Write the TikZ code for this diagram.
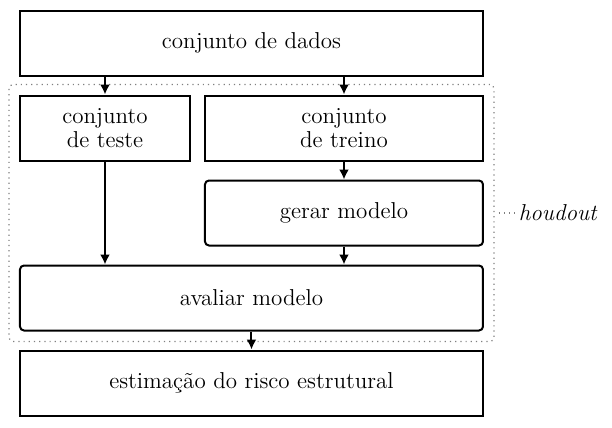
\documentclass[tikz,border=0pt]{standalone}
\usepackage{tikz}
\usetikzlibrary{arrows.meta,positioning,fit}

\begin{document}
\begin{tikzpicture}[>={Latex[length=5pt,width=5pt]},node distance=9pt,
    bloco/.style={draw,line width=1pt,minimum height=32.5pt,align=center,
      font=\fontsize{11.5}{12}\selectfont},
    blocor/.style={bloco,rounded corners=2pt},
    seta/.style={->,line width=1pt}]
    \node[bloco,minimum width=231.5pt] (dados) at (0,0) {conjunto de dados};
    \node[bloco,minimum width=85pt] (teste) [below right=9pt and 0pt of dados.south west] {conjunto\\de teste};
    \node[bloco,minimum width=139pt] (treino) [below left=9pt and 0pt of dados.south east] {conjunto\\de treino};
    \node[blocor,minimum width=139pt] (gerar) [below=of treino] {gerar modelo};
    \node[blocor,minimum width=231.5pt,anchor=north,yshift=-9pt] (avaliar) at (dados |- gerar.south) {avaliar modelo};
    \node[bloco,minimum width=231.5pt] (risco) [below=of avaliar] {estimação do risco estrutural};

    % holdout
    \node[draw=gray,dotted,line width=0.6pt,rounded corners=2pt,inner sep=5pt,
      fit=(teste)(treino)(avaliar)] (hold) {};
    \node[right=10pt of hold.east,inner sep=2pt,font=\fontsize{11.5}{12}\selectfont\itshape] (rot) {houdout};
    \draw[dotted,gray,line width=0.6pt] ([xshift=2pt]hold.east) -- (rot.west);

    \draw[seta] (teste.north |- dados.south) -- (teste.north);
    \draw[seta] (treino.north |- dados.south) -- (treino.north);
    \draw[seta] (treino) -- (gerar);
    \draw[seta] (teste) -- (teste.south |- avaliar.north);
    \draw[seta] (gerar) -- (gerar.south |- avaliar.north);
    \draw[seta] (avaliar) -- (risco);

    \path[use as bounding box] (-125.75pt,21.5pt) rectangle (180.25pt,-192.5pt);
\end{tikzpicture}
\end{document}
